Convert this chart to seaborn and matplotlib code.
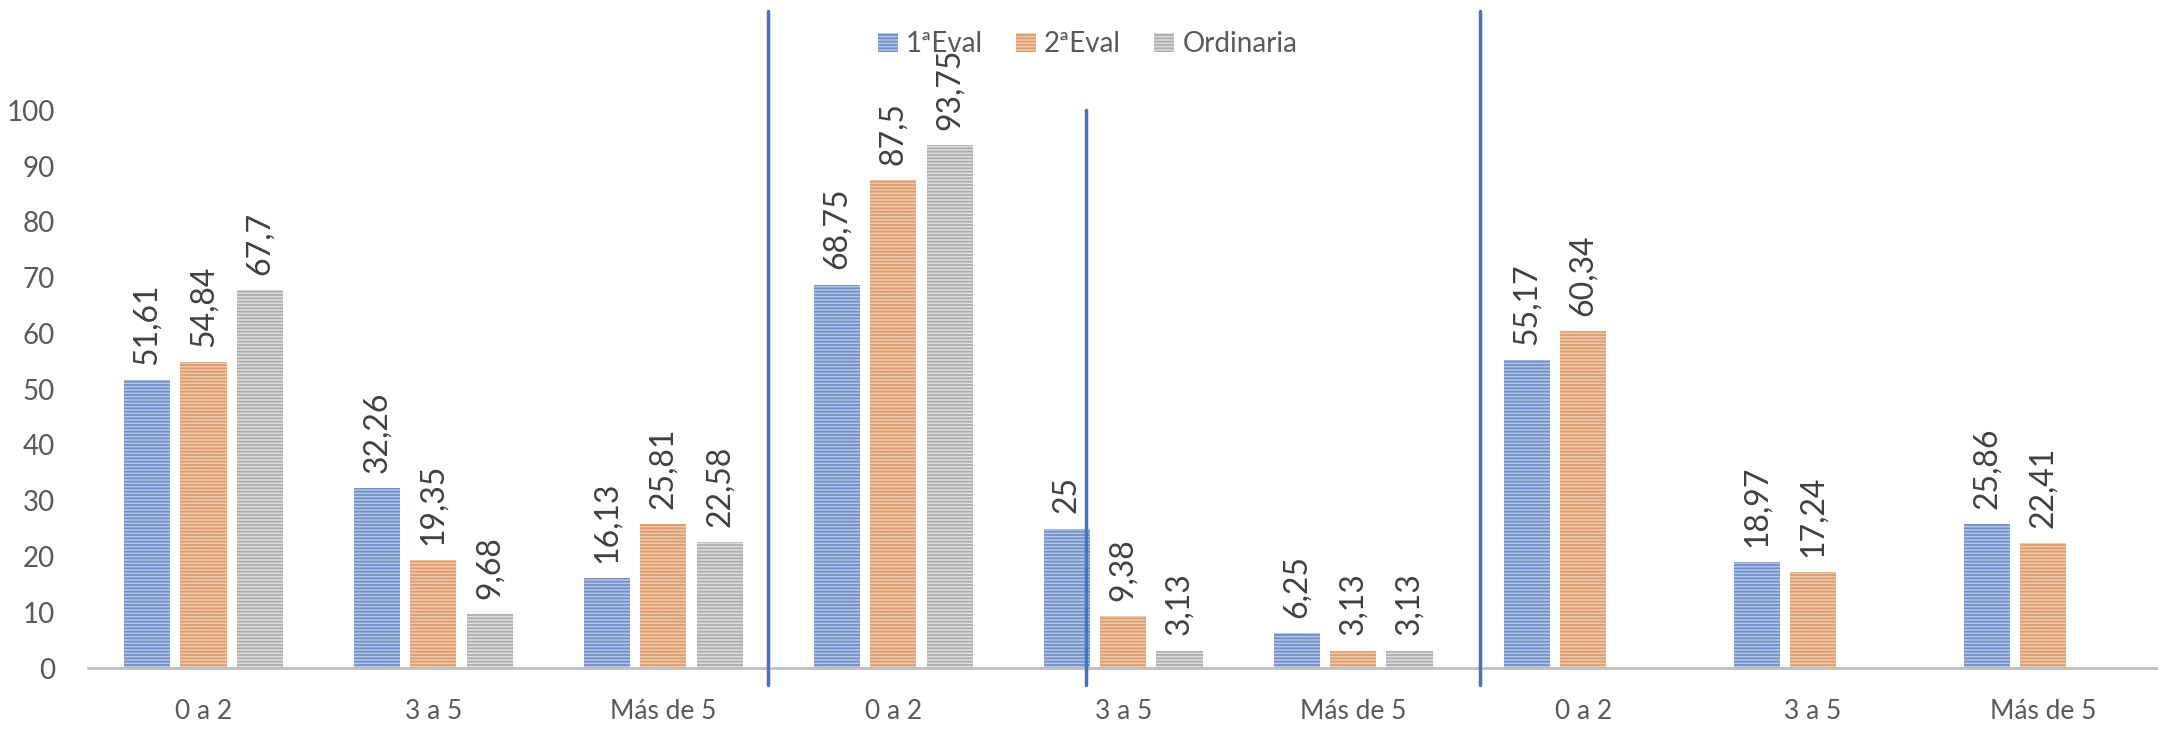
import numpy as np
import pandas as pd
import matplotlib
matplotlib.use("Agg")
import matplotlib.pyplot as plt
import seaborn as sns

# data
categories = ["0 a 2", "3 a 5", "Más de 5"] * 3
eval1 = [51.61, 32.26, 16.13, 68.75, 25, 6.25, 55.17, 18.97, 25.86]
eval2 = [54.84, 19.35, 25.81, 87.5, 9.38, 3.13, 60.34, 17.24, 22.41]
ordinaria = [67.7, 9.68, 22.58, 93.75, 3.13, 3.13, np.nan, np.nan, np.nan]
series = ["1ªEval", "2ªEval", "Ordinaria"]

rows = []
for name, vals in zip(series, [eval1, eval2, ordinaria]):
    for i, v in enumerate(vals):
        rows.append({"pos": i, "serie": name, "valor": v})
df = pd.DataFrame(rows)

sns.set_style("white")
plt.rcParams["font.family"] = ["Lato", "DejaVu Sans"]
plt.rcParams["hatch.linewidth"] = 1.3

txt = "#595959"
face = {"1ªEval": "#AFC3E8", "2ªEval": "#F5C9A4", "Ordinaria": "#DCDCDC"}
stripe = {"1ªEval": "#6F8FCB", "2ªEval": "#E19C6B", "Ordinaria": "#ADADAD"}

fig = plt.figure(figsize=(21.58, 7.35), dpi=100)
ax = fig.add_axes([0.041, 0.091, 0.959, 0.759])

sns.barplot(data=df, x="pos", y="valor", hue="serie", hue_order=series,
            order=list(range(9)), width=0.735, gap=0.18, errorbar=None,
            palette=face, ax=ax, legend=True)

for cont, name in zip(ax.containers, series):
    for bar in cont:
        bar.set_hatch("-----")
        bar.set_edgecolor(stripe[name])
        bar.set_linewidth(0)
    labels = []
    for bar in cont:
        h = bar.get_height()
        labels.append("" if np.isnan(h) else f"{h:g}".replace(".", ","))
    ax.bar_label(cont, labels=labels, rotation=90, padding=11,
                 fontsize=23, color="#404040")

ax.set_ylim(0, 100)
ax.set_xlim(-0.5, 8.5)
ax.set_yticks(range(0, 101, 10))
ax.set_xticks(range(9))
ax.set_xticklabels(categories)
ax.tick_params(axis="both", length=0, colors=txt)
ax.tick_params(axis="x", pad=22, labelsize=19)
ax.tick_params(axis="y", pad=24, labelsize=20)
ax.set_xlabel("")
ax.set_ylabel("")
for s in ["top", "right", "left"]:
    ax.spines[s].set_visible(False)
ax.spines["bottom"].set_color("#BFBFBF")
ax.spines["bottom"].set_linewidth(2)

# separator lines drawn on the chart
blue = "#4472C4"
for xs in [2.455, 5.55]:
    ax.plot([xs, xs], [-3, 117.8], color=blue, lw=2.5, clip_on=False, zorder=5)
ax.plot([3.84, 3.84], [100, -3], color=blue, lw=2.5, clip_on=False, zorder=5)

leg = ax.legend(loc="center", bbox_to_anchor=(0.504, 0.94),
                bbox_transform=fig.transFigure, ncol=3, frameon=False,
                fontsize=20, handlelength=0.7, handleheight=0.7,
                handletextpad=0.3, columnspacing=1.2)
for t in leg.get_texts():
    t.set_color(txt)
for h, name in zip(leg.legend_handles, series):
    h.set_hatch("-----")
    h.set_edgecolor(stripe[name])
    h.set_linewidth(0)

fig.savefig("out.png", dpi=100)
